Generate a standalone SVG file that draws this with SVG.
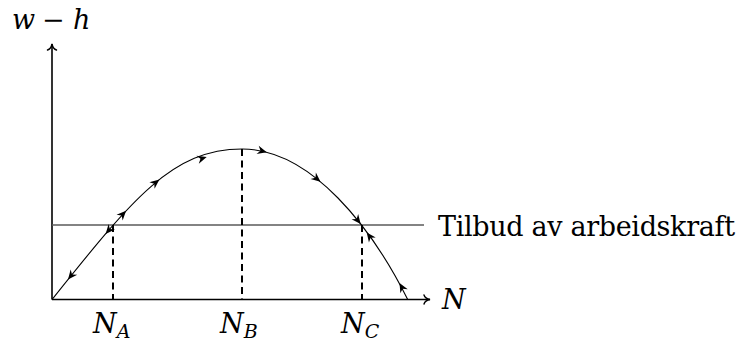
<svg xmlns="http://www.w3.org/2000/svg" xmlns:xlink="http://www.w3.org/1999/xlink" width="744" height="342" viewBox="0 0 744 342">
<style>
.axis{fill:none;stroke:#000;stroke-width:1.6}
.curve{fill:none;stroke:#000;stroke-width:1.1}
.dash{fill:none;stroke:#000;stroke-width:2;stroke-dasharray:7 4.5}
.supply{fill:none;stroke:#5a5a5a;stroke-width:1.3}
.ah{fill:#000;stroke:none}
</style>
<defs>
<marker id="to" markerUnits="userSpaceOnUse" viewBox="-8 -6 10 12" markerWidth="10" markerHeight="12" refX="0" refY="0" orient="auto">
<path d="M-6,-4.5 C-5.2,-1.8 -2,-0.4 0,0 C-2,0.4 -5.2,1.8 -6,4.5" fill="none" stroke="#000" stroke-width="1.4" stroke-linecap="round"/>
</marker>
<path id="ah" d="M0,0 L-9.5,-4.2 L-6.5,0 L-9.5,4.2 Z"/>
</defs>
<g id="axes">
<path class="axis" d="M52,299.5 L52,44" marker-end="url(#to)"/>
<path class="axis" d="M52,299.5 L430,299.5" marker-end="url(#to)"/>
</g>
<g id="connectors">
<line class="supply" x1="52" y1="225" x2="424" y2="225"/>
<line class="dash" x1="113" y1="225" x2="113" y2="299"/>
<line class="dash" x1="242" y1="149" x2="242" y2="299"/>
<line class="dash" x1="362" y1="225" x2="362" y2="299"/>
<path class="curve" d="M52,299.5 C132,199.5 172,149 242,149 C312,149 372.7,229.5 407.7,299.5"/>
<g class="ah">
<use xlink:href="#ah" transform="translate(68,279.5) rotate(128.7)"/>
<use xlink:href="#ah" transform="translate(105.6,234) rotate(130.6)"/>
<use xlink:href="#ah" transform="translate(126.1,210.8) rotate(-46.8)"/>
<use xlink:href="#ah" transform="translate(159.4,179.6) rotate(-38.4)"/>
<use xlink:href="#ah" transform="translate(206.7,157) rotate(-16.5)"/>
<use xlink:href="#ah" transform="translate(266.8,152.3) rotate(14.9)"/>
<use xlink:href="#ah" transform="translate(320.5,181.8) rotate(39.7)"/>
<use xlink:href="#ah" transform="translate(360.7,224.1) rotate(52)"/>
<use xlink:href="#ah" transform="translate(366.7,232.4) rotate(-126.4)"/>
<use xlink:href="#ah" transform="translate(399.5,283) rotate(-118.7)"/>
</g>
</g>
<g id="label-yaxis" font-family="'DejaVu Serif', serif" font-size="27" font-style="italic" fill="#000">
<text x="12" y="29">w</text>
<text x="42" y="29" font-style="normal">−</text>
<text x="73" y="29">h</text>
</g>
<g id="label-xaxis" font-family="'DejaVu Serif', serif" font-size="27" font-style="italic" fill="#000">
<text x="442" y="309">N</text>
</g>
<g id="label-NA" font-family="'DejaVu Serif', serif" font-size="27" font-style="italic" fill="#000">
<text x="93" y="333">N<tspan font-size="19" dy="5">A</tspan></text>
</g>
<g id="label-NB" font-family="'DejaVu Serif', serif" font-size="27" font-style="italic" fill="#000">
<text x="220" y="333">N<tspan font-size="19" dy="5">B</tspan></text>
</g>
<g id="label-NC" font-family="'DejaVu Serif', serif" font-size="27" font-style="italic" fill="#000">
<text x="341" y="333">N<tspan font-size="19" dy="5">C</tspan></text>
</g>
<g id="label-supply" font-family="'DejaVu Serif', serif" font-size="27" fill="#000">
<text x="438" y="235.5" textLength="297" lengthAdjust="spacing">Tilbud av arbeidskraft</text>
</g>
</svg>
